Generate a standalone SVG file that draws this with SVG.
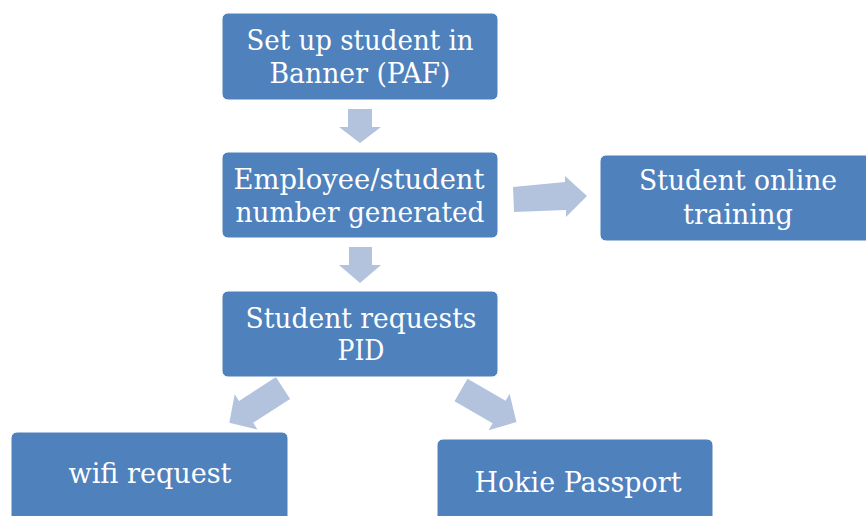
<svg xmlns="http://www.w3.org/2000/svg" width="866" height="516" viewBox="0 0 866 516">
<style>
.box{fill:#4F81BD;stroke:#ffffff;stroke-width:1}
.arr{fill:#B3C3DE}
.t{font-family:"DejaVu Serif","Liberation Serif",serif;font-size:28px;fill:#ffffff;text-anchor:middle}
</style>
<defs>
<polygon id="diag" points="0,-13 44,-13 44,-21 64,0 44,21 44,13 0,13"/>
</defs>
<rect width="866" height="516" fill="#ffffff"/>
<g id="connectors">
<polygon class="arr" points="348,109 372,109 372,127 381,127 360,143 339,127 348,127"/>
<polygon class="arr" points="349,247 372,247 372,265 381,265 360,283 339,265 349,265"/>
<polygon class="arr" points="513,187 565,182 565,176 587,196 566,217 566,210 514,212"/>
<use href="#diag" class="arr" transform="translate(283,388) rotate(147)"/>
<use href="#diag" class="arr" transform="translate(461,390) rotate(30)"/>
</g>
<g id="n1">
<rect class="box" x="222" y="13" width="276" height="87" rx="6"/>
<text class="t" x="360" y="50" textLength="227" lengthAdjust="spacingAndGlyphs">Set up student in</text>
<text class="t" x="360" y="83" textLength="181" lengthAdjust="spacingAndGlyphs">Banner (PAF)</text>
</g>
<g id="n2">
<rect class="box" x="222" y="152" width="276" height="86" rx="6"/>
<text class="t" x="359" y="189" textLength="251" lengthAdjust="spacingAndGlyphs">Employee/student</text>
<text class="t" x="360" y="222" textLength="249" lengthAdjust="spacingAndGlyphs">number generated</text>
</g>
<g id="n3">
<rect class="box" x="600" y="155" width="276" height="86" rx="6"/>
<text class="t" x="738" y="190" textLength="198" lengthAdjust="spacingAndGlyphs">Student online</text>
<text class="t" x="738" y="224" textLength="110" lengthAdjust="spacingAndGlyphs">training</text>
</g>
<g id="n4">
<rect class="box" x="222" y="291" width="276" height="86" rx="6"/>
<text class="t" x="361" y="328" textLength="231" lengthAdjust="spacingAndGlyphs">Student requests</text>
<text class="t" x="361" y="360" textLength="47" lengthAdjust="spacingAndGlyphs">PID</text>
</g>
<g id="n5">
<rect class="box" x="11" y="432" width="277" height="96" rx="6"/>
<text class="t" x="150" y="483" textLength="163" lengthAdjust="spacingAndGlyphs">wifi request</text>
</g>
<g id="n6">
<rect class="box" x="437" y="439" width="276" height="96" rx="6"/>
<text class="t" x="578" y="492" textLength="207" lengthAdjust="spacingAndGlyphs">Hokie Passport</text>
</g>
</svg>
